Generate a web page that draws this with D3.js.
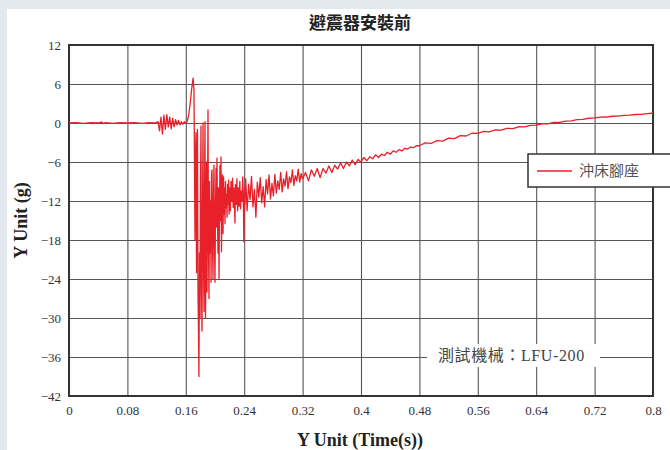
<!DOCTYPE html>
<html>
<head>
<meta charset="utf-8">
<script src="https://cdn.jsdelivr.net/npm/d3@7"></script>
<style>
  body { margin: 0; background: #e4e8ef; }
  .tick text { font-family: "Liberation Serif", serif; font-size: 13px; fill: #333; }
</style>
</head>
<body>
<div id="chart"></div>
<script>
// data
const chartTitle = '避震器安裝前';
const seriesName = '沖床腳座';
const machineNote = '測試機械：LFU-200';
const timeTicks = [0, 0.08, 0.16, 0.24, 0.32, 0.4, 0.48, 0.56, 0.64, 0.72, 0.8];
const accelTicks = [12, 6, 0, -6, -12, -18, -24, -30, -36, -42];

// [time (s), acceleration (g)]
const preImpact = [
  [0, 0], [0.01, 0.05], [0.02, -0.05], [0.03, 0.05], [0.04, 0], [0.045, 0.15], [0.047, -0.1],
  [0.05, 0.05], [0.06, -0.05], [0.07, 0.05], [0.08, 0], [0.09, 0.05], [0.1, -0.05], [0.11, 0.05],
  [0.118, 0], [0.122, 0.2], [0.124, -1.2], [0.126, 0.9], [0.128, -1.7], [0.13, 1.2], [0.132, -1.0],
  [0.134, 1.3], [0.136, -0.6], [0.138, 0.9], [0.14, -0.9], [0.142, 0.7], [0.144, -0.6], [0.146, 0.5],
  [0.148, -0.3], [0.15, 0.4], [0.152, -0.3], [0.154, 0.2], [0.156, -0.2], [0.158, 0.2], [0.16, 0.0],
  [0.162, 0.3]
];

const impact = [
  [0.164, 1.2], [0.166, 3.0], [0.168, 5.2], [0.17, 6.9], [0.1712, 5.0], [0.1718, -4.5], [0.1726, -18],
  [0.1733, -5], [0.174, -1.5], [0.1747, -23], [0.1755, -8], [0.176, -1.0], [0.1767, -26], [0.1773, -31],
  [0.178, -39], [0.1787, -20], [0.1795, -30], [0.18, -12], [0.1808, -0.5], [0.1815, -26], [0.1822, -32],
  [0.1829, -14], [0.1836, 0], [0.1843, -22], [0.185, -29], [0.1857, -10], [0.1863, 0.2], [0.187, -30],
  [0.1877, -21], [0.1884, -6], [0.189, -26], [0.1897, -14], [0.1904, 2.0], [0.191, -18], [0.1918, -27],
  [0.1925, -9], [0.1932, -20], [0.194, -12], [0.1946, -24.5], [0.1953, -8], [0.1959, -7.2], [0.1966, -19],
  [0.1973, -24], [0.198, -11], [0.1986, -6.5], [0.1993, -18], [0.2, -24.5], [0.2007, -13], [0.2014, -7],
  [0.2021, -16], [0.2027, -5.4], [0.2034, -14], [0.2041, -20], [0.2048, -10], [0.2055, -24], [0.2062, -12],
  [0.2068, -6.5], [0.2075, -15], [0.2082, -5.2], [0.2089, -19.8], [0.2096, -11], [0.2103, -8], [0.211, -17],
  [0.2117, -8.3], [0.2124, -14], [0.2131, -10], [0.2137, -15.5], [0.2144, -9], [0.2151, -13], [0.2158, -11],
  [0.2165, -14.5], [0.2172, -9.5], [0.2179, -12.5], [0.2186, -8.8], [0.2193, -14], [0.22, -10],
  [0.221, -13.5], [0.222, -9], [0.223, -12], [0.224, -8.5], [0.225, -13], [0.226, -10], [0.2274, -15.4],
  [0.228, -9.5], [0.229, -12.5], [0.23, -8.6], [0.231, -13.5], [0.232, -10], [0.233, -12.8], [0.234, -9],
  [0.235, -13.2], [0.236, -10.5], [0.237, -12], [0.238, -8.3], [0.239, -13], [0.2395, -18.3],
  [0.2405, -10], [0.241, -12.5]
];

const decay = [
  [0.242, -8.6], [0.244, -13.5], [0.246, -9.4], [0.248, -11.8], [0.25, -8.2], [0.252, -12.9],
  [0.254, -10.2], [0.256, -14.5], [0.258, -9.1], [0.26, -11.4], [0.262, -8.4], [0.264, -12.3],
  [0.266, -9.8], [0.268, -12.9], [0.27, -8.7], [0.272, -10.9], [0.274, -8.0], [0.276, -11.7],
  [0.278, -9.3], [0.28, -11.2], [0.282, -7.9], [0.284, -10.8], [0.286, -8.9], [0.288, -10.2],
  [0.29, -7.6], [0.292, -10.6], [0.294, -8.6], [0.296, -9.7], [0.298, -7.5], [0.3, -10.1],
  [0.302, -8.3], [0.304, -9.2], [0.306, -7.2], [0.308, -9.6], [0.31, -8.1], [0.312, -8.9],
  [0.314, -7.1], [0.316, -9.1], [0.318, -7.8], [0.32, -8.6],
  [0.324, -7.6], [0.328, -8.9], [0.332, -7.2], [0.336, -8.2], [0.34, -7.0], [0.344, -8.4],
  [0.348, -7.0], [0.352, -7.7], [0.356, -6.6], [0.36, -7.6], [0.364, -6.5], [0.368, -7.1],
  [0.372, -6.1], [0.376, -7.0], [0.38, -6.0], [0.384, -6.6], [0.388, -5.7], [0.392, -6.4],
  [0.396, -5.6], [0.4, -6.0], [0.404, -5.3], [0.408, -5.8], [0.412, -5.2], [0.416, -5.5],
  [0.42, -4.9], [0.424, -5.3], [0.428, -4.8], [0.432, -5.0], [0.436, -4.5], [0.44, -4.8],
  [0.444, -4.3], [0.448, -4.5], [0.452, -4.1], [0.456, -4.3], [0.46, -3.9], [0.464, -4.0],
  [0.468, -3.7], [0.472, -3.8], [0.476, -3.5], [0.48, -3.5]
];

const tail = [
  [0.488, -3.05], [0.496, -3.15], [0.504, -2.7], [0.512, -2.78], [0.52, -2.32], [0.528, -2.4],
  [0.536, -1.95], [0.544, -2.0], [0.552, -1.58], [0.56, -1.6], [0.568, -1.28], [0.576, -1.36],
  [0.584, -1.05], [0.592, -1.1], [0.6, -0.82], [0.608, -0.86], [0.616, -0.58], [0.624, -0.6],
  [0.632, -0.35], [0.64, -0.34], [0.648, -0.12], [0.656, -0.13], [0.664, 0.09], [0.672, 0.1],
  [0.68, 0.3], [0.688, 0.33], [0.696, 0.52], [0.704, 0.55], [0.712, 0.73], [0.72, 0.78],
  [0.728, 0.9], [0.736, 0.92], [0.744, 1.04], [0.752, 1.06], [0.76, 1.18], [0.768, 1.2],
  [0.776, 1.31], [0.784, 1.34], [0.792, 1.45], [0.8, 1.5]
];

const xAccessor = (d) => d[0];
const yAccessor = (d) => d[1];

function draw() {
  const dataset = [...preImpact, ...impact, ...decay, ...tail];

  let dimensions = {
    width: 670,
    height: 450,
    margin: { top: 45, bottom: 54, left: 69, right: 17 },
  };
  dimensions.ctrWidth = dimensions.width - dimensions.margin.left - dimensions.margin.right;
  dimensions.ctrHeight = dimensions.height - dimensions.margin.top - dimensions.margin.bottom;

  const svg = d3.select('#chart')
    .append('svg')
    .attr('width', dimensions.width)
    .attr('height', dimensions.height)
    .style('display', 'block');

  // white panel over the pale page
  svg.append('rect')
    .attr('x', 7).attr('y', 9)
    .attr('width', dimensions.width - 7)
    .attr('height', dimensions.height - 9)
    .attr('fill', '#fff');

  svg.append('text')
    .attr('x', 360).attr('y', 29)
    .attr('text-anchor', 'middle')
    .style('font-family', '"Noto Sans CJK TC"')
    .style('font-weight', 700)
    .style('font-size', '17px')
    .attr('fill', '#222')
    .text(chartTitle);

  const ctr = svg.append('g')
    .attr('transform', `translate(${dimensions.margin.left}, ${dimensions.margin.top})`);

  const xScale = d3.scaleLinear()
    .domain([0, 0.8])
    .range([0, dimensions.ctrWidth]);

  const yScale = d3.scaleLinear()
    .domain([-42, 12])
    .range([dimensions.ctrHeight, 0]);

  // axes doubling as grid
  const xAxis = d3.axisBottom(xScale)
    .tickValues(timeTicks)
    .tickSize(-dimensions.ctrHeight)
    .tickPadding(10)
    .tickFormat((d) => d3.format('~g')(d));

  const yAxis = d3.axisLeft(yScale)
    .tickValues(accelTicks)
    .tickSize(-dimensions.ctrWidth)
    .tickPadding(8);

  const xAxisGroup = ctr.append('g')
    .attr('transform', `translate(0, ${dimensions.ctrHeight})`)
    .call(xAxis);
  const yAxisGroup = ctr.append('g').call(yAxis);

  [xAxisGroup, yAxisGroup].forEach((g) => {
    g.select('.domain').remove();
    g.selectAll('.tick line').attr('stroke', '#555').attr('stroke-width', 1.1);
  });

  ctr.append('rect')
    .attr('width', dimensions.ctrWidth)
    .attr('height', dimensions.ctrHeight)
    .attr('fill', 'none')
    .attr('stroke', '#333')
    .attr('stroke-width', 2);

  // the trace
  const line = d3.line()
    .x((d) => xScale(xAccessor(d)))
    .y((d) => yScale(yAccessor(d)));

  ctr.append('path')
    .datum(dataset)
    .attr('d', line)
    .attr('fill', 'none')
    .attr('stroke', '#e8202a')
    .attr('stroke-width', 1.3)
    .attr('stroke-linejoin', 'round');

  // note about the test machine
  svg.append('rect')
    .attr('x', 427).attr('y', 344)
    .attr('width', 173).attr('height', 23)
    .attr('fill', '#fff');
  svg.append('text')
    .attr('x', 438).attr('y', 361)
    .style('font-family', '"Liberation Serif", "Noto Sans CJK TC"')
    .style('font-size', '16px')
    .style('letter-spacing', '0.6px')
    .attr('fill', '#444')
    .text(machineNote);

  // legend
  const legend = svg.append('g').attr('transform', 'translate(528, 154)');
  legend.append('rect')
    .attr('width', 160).attr('height', 33)
    .attr('fill', '#fff')
    .attr('stroke', '#333')
    .attr('stroke-width', 1.5);
  legend.append('line')
    .attr('x1', 9).attr('x2', 44)
    .attr('y1', 17).attr('y2', 17)
    .attr('stroke', '#e8202a')
    .attr('stroke-width', 1.3);
  legend.append('text')
    .attr('x', 51).attr('y', 22)
    .style('font-family', '"Noto Sans CJK TC"')
    .style('font-size', '15px')
    .attr('fill', '#555')
    .text(seriesName);

  // axis titles
  svg.append('text')
    .attr('x', 360).attr('y', 446)
    .attr('text-anchor', 'middle')
    .style('font-family', '"Liberation Serif", serif')
    .style('font-weight', 700)
    .style('font-size', '18px')
    .attr('fill', '#222')
    .text('Y Unit (Time(s))');

  svg.append('text')
    .attr('transform', `translate(27, ${dimensions.margin.top + dimensions.ctrHeight / 2}) rotate(-90)`)
    .attr('text-anchor', 'middle')
    .style('font-family', '"Liberation Serif", serif')
    .style('font-weight', 700)
    .style('font-size', '18px')
    .attr('fill', '#222')
    .text('Y Unit (g)');
}
draw();
</script>
</body>
</html>
